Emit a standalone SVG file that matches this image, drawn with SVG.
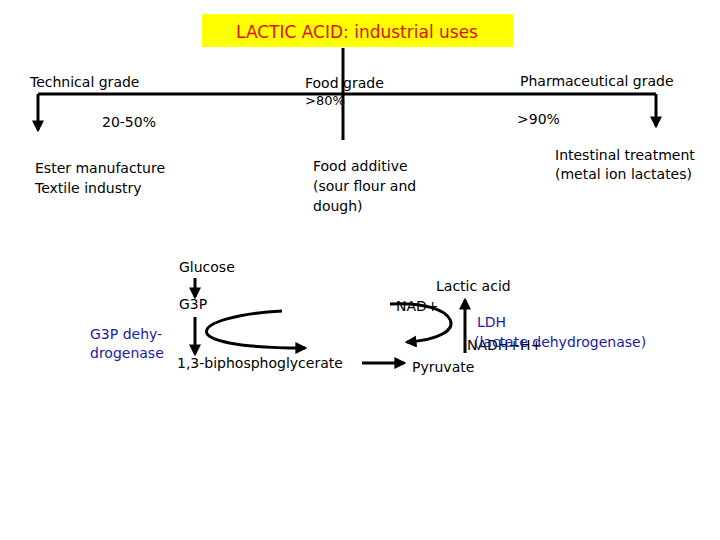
<svg xmlns="http://www.w3.org/2000/svg" width="720" height="540" viewBox="0 0 720 540">
<style>
text{font-family:"DejaVu Sans",sans-serif;font-size:14px;fill:#000}
.b{fill:#1a1aa8}
.l{stroke:#000;stroke-width:3;fill:none}
</style>
<defs><marker id="a" viewBox="0 0 10 10" refX="8" refY="5" markerWidth="4" markerHeight="4" orient="auto"><path d="M0,0L10,5L0,10z"/></marker></defs>
<rect width="720" height="540" fill="#fff"/>
<g id="title"><rect x="202" y="14" width="311" height="33" fill="#ffff00"/><text x="357" y="38" text-anchor="middle" style="fill:#e01010;font-size:17px">LACTIC ACID: industrial uses</text></g>
<g id="connectors">
<path class="l" d="M343,48V140M38,94H656"/>
<path class="l" marker-end="url(#a)" d="M38,94V130"/>
<path class="l" marker-end="url(#a)" d="M656,94V126"/>
<path class="l" marker-end="url(#a)" d="M195,278V297"/>
<path class="l" marker-end="url(#a)" d="M195,317V354"/>
<path class="l" marker-end="url(#a)" d="M282,311C190,316 165,348 305,348"/>
<path class="l" marker-end="url(#a)" d="M390,304C460,300 475,338 407,342"/>
<path class="l" marker-end="url(#a)" d="M465,353V300"/>
<path class="l" marker-end="url(#a)" d="M362,363H404"/>
</g>
<g id="technical"><text x="30" y="87">Technical grade</text><text x="102" y="127">20-50%</text><text x="35" y="173">Ester manufacture</text><text x="35" y="193">Textile industry</text></g>
<g id="food"><text x="305" y="88">Food grade</text><text x="305" y="105" style="font-size:13px">&gt;80%</text><text x="313" y="171">Food additive</text><text x="313" y="191">(sour flour and</text><text x="313" y="211">dough)</text></g>
<g id="pharma"><text x="520" y="86">Pharmaceutical grade</text><text x="517" y="124">&gt;90%</text><text x="555" y="160">Intestinal treatment</text><text x="555" y="179">(metal ion lactates)</text></g>
<g id="glucose"><text x="179" y="272">Glucose</text></g>
<g id="g3p"><text x="179" y="309">G3P</text></g>
<g id="bpg"><text x="177" y="368">1,3-biphosphoglycerate</text></g>
<g id="g3pdh"><text class="b" x="90" y="339">G3P dehy-</text><text class="b" x="90" y="358">drogenase</text></g>
<g id="nad"><text x="396" y="311">NAD+</text></g>
<g id="lactic"><text x="436" y="291">Lactic acid</text></g>
<g id="ldh"><text class="b" x="477" y="327">LDH</text><text x="467" y="350">NADH+H+</text><text class="b" x="474" y="347">(lactate dehydrogenase)</text></g>
<g id="pyruvate"><text x="412" y="372">Pyruvate</text></g>
</svg>
